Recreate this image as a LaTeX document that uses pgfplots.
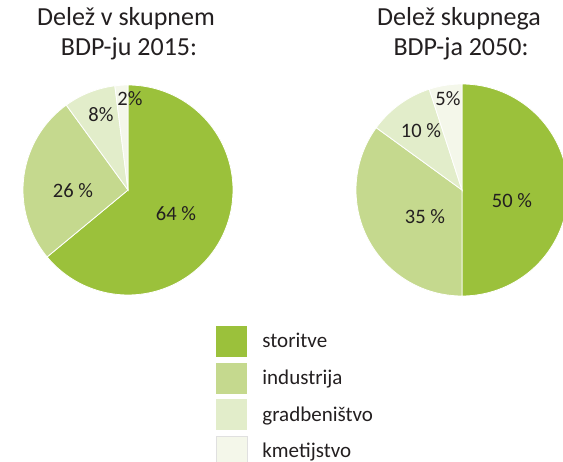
\documentclass[border=0pt]{standalone}
\usepackage{pgfplots}
\pgfplotsset{compat=1.18}
\usepackage{fontspec}
\setmainfont{Carlito}
\definecolor{cA}{HTML}{9BC13B}
\definecolor{cB}{HTML}{C5D98E}
\definecolor{cC}{HTML}{E2EDCA}
\definecolor{cD}{HTML}{F4F7EA}
\definecolor{txt}{HTML}{231F20}
\begin{document}
\begin{tikzpicture}
\path[use as bounding box, clip] (0,0) rectangle (563bp,462bp);
\begin{axis}[
  at={(0,0)}, anchor=south west,
  width=563bp, height=462bp, scale only axis,
  xmin=0, xmax=563, ymin=0, ymax=462, y dir=reverse,
  hide axis, clip=true,
  legend style={at={(axis cs:216,326)}, anchor=north west, draw=none, fill=none,
    inner sep=0pt, outer sep=0pt, row sep=5.5bp, column sep=0pt,
    nodes={inner sep=0pt, outer sep=0pt, text=txt, font=\fontsize{21bp}{24bp}\selectfont}},
  legend cell align=left,
  legend image code/.code={\path[#1] (0bp,-15.5bp) rectangle (31bp,15.5bp); \path (46bp,0bp);},
]
% Left pie: 2015 (center 128,190; r=105)
\addplot[fill=cA, draw=white, line width=0.8pt, domain=0:64, samples=90, variable=\t, forget plot]
  ({128+105*cos(90-3.6*t)}, {190-105*sin(90-3.6*t)}) -- (axis cs:128,190) -- cycle;
\addplot[fill=cB, draw=white, line width=0.8pt, domain=64:90, samples=40, variable=\t, forget plot]
  ({128+105*cos(90-3.6*t)}, {190-105*sin(90-3.6*t)}) -- (axis cs:128,190) -- cycle;
\addplot[fill=cC, draw=white, line width=0.8pt, domain=90:98, samples=20, variable=\t, forget plot]
  ({128+105*cos(90-3.6*t)}, {190-105*sin(90-3.6*t)}) -- (axis cs:128,190) -- cycle;
\addplot[fill=cD, draw=white, line width=0.8pt, domain=98:100, samples=10, variable=\t, forget plot]
  ({128+105*cos(90-3.6*t)}, {190-105*sin(90-3.6*t)}) -- (axis cs:128,190) -- cycle;
% Right pie: 2050 (center 462,190; r=106)
\addplot[fill=cA, draw=white, line width=0.8pt, domain=0:50, samples=90, variable=\t, forget plot]
  ({462+106*cos(90-3.6*t)}, {190-106*sin(90-3.6*t)}) -- (axis cs:462,190) -- cycle;
\addplot[fill=cB, draw=white, line width=0.8pt, domain=50:85, samples=60, variable=\t, forget plot]
  ({462+106*cos(90-3.6*t)}, {190-106*sin(90-3.6*t)}) -- (axis cs:462,190) -- cycle;
\addplot[fill=cC, draw=white, line width=0.8pt, domain=85:95, samples=20, variable=\t, forget plot]
  ({462+106*cos(90-3.6*t)}, {190-106*sin(90-3.6*t)}) -- (axis cs:462,190) -- cycle;
\addplot[fill=cD, draw=white, line width=0.8pt, domain=95:100, samples=10, variable=\t, forget plot]
  ({462+106*cos(90-3.6*t)}, {190-106*sin(90-3.6*t)}) -- (axis cs:462,190) -- cycle;

\addlegendimage{fill=cA, draw=none}
\addlegendentry{storitve}
\addlegendimage{fill=cB, draw=none}
\addlegendentry{industrija}
\addlegendimage{fill=cC, draw=none}
\addlegendentry{gradbeništvo}
\addlegendimage{fill=cD, draw=black!12}
\addlegendentry{kmetijstvo}

% slice labels
\begin{scope}[every node/.style={text=txt, font=\fontsize{20.5bp}{24bp}\selectfont, inner sep=0pt}]
\node at (axis cs:176,214) {64 \%};
\node at (axis cs:73,191) {26 \%};
\node at (axis cs:101,115) {8\%};
\node at (axis cs:130,99) {2\%};
\node at (axis cs:512,201) {50 \%};
\node at (axis cs:425,217) {35 \%};
\node at (axis cs:421,131) {10 \%};
\node at (axis cs:448,99) {5\%};
\end{scope}
% titles
\begin{scope}[every node/.style={text=txt, font=\fontsize{26bp}{30bp}\selectfont, inner sep=0pt, anchor=base}]
\node at (axis cs:126,26) {Delež v skupnem};
\node at (axis cs:129,56) {BDP-ju 2015:};
\node at (axis cs:459,26) {Delež skupnega};
\node at (axis cs:461,56) {BDP-ja 2050:};
\end{scope}
\end{axis}
\end{tikzpicture}
\end{document}
